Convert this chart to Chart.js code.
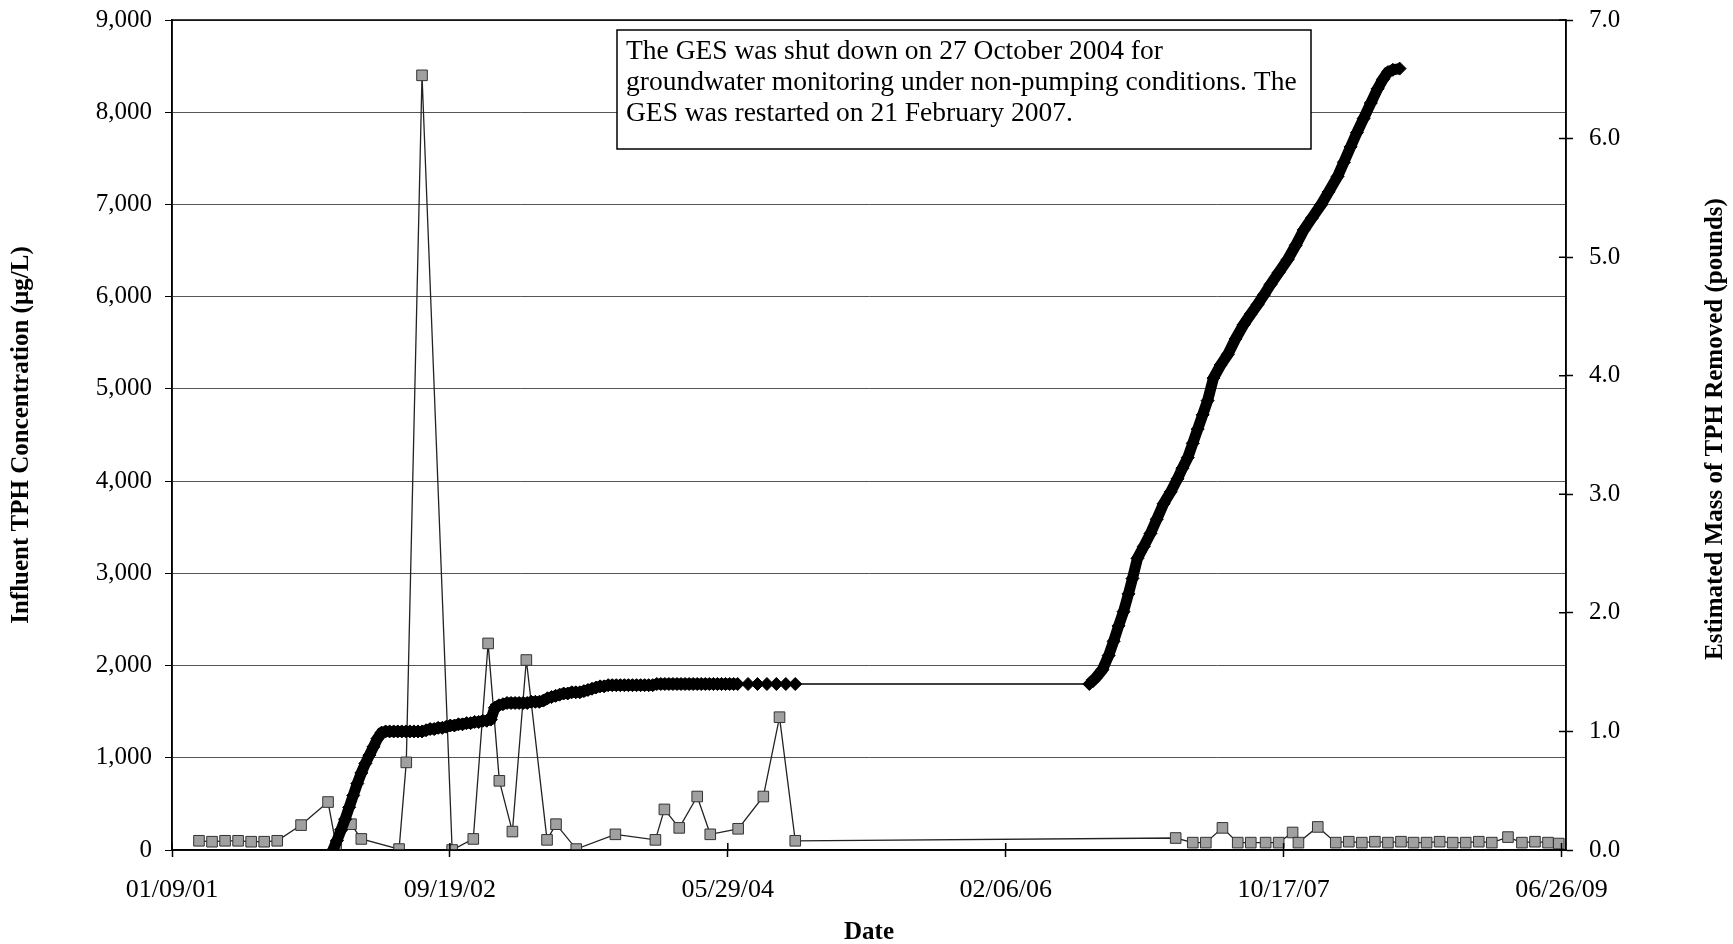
<!DOCTYPE html>
<html>
<head>
<meta charset="utf-8">
<title>Influent TPH Concentration and Estimated Mass of TPH Removed</title>
<script src="https://cdn.jsdelivr.net/npm/chart.js@4.4.1/dist/chart.umd.min.js"></script>
<style>
  body { margin: 0; background: #fff; }
  #chart-box { width: 1733px; height: 944px; }
</style>
</head>
<body>
<div id="chart-box"><canvas id="tph-canvas" width="1733" height="944"></canvas></div>
<script>
    // Dates are Excel serial dates (days since 12/30/1899), like the source workbook
    let tickDates = [36900, 37518, 38136, 38754, 39372, 39990];

    // Influent TPH concentration (ug/L), left axis
    let tphDates = [
      36960, 36989, 37018, 37047, 37076, 37105, 37134, 37187, 37247, 37265,
      37298, 37321, 37405, 37421, 37456, 37523, 37570, 37603, 37628, 37657,
      37688, 37734, 37754, 37799, 37886, 37975, 37995, 38028, 38068, 38097,
      38159, 38215, 38251, 38286,
      39132, 39170, 39199, 39236, 39270, 39299, 39332, 39361, 39392, 39405,
      39448, 39488, 39517, 39546, 39575, 39604, 39633, 39661, 39690, 39719,
      39748, 39777, 39806, 39835, 39871, 39902, 39931, 39960, 39984
    ];
    let tphValues = [
      100, 90, 100, 100, 90, 90, 100, 270, 520, 50,
      280, 120, 10, 950, 8400, 0, 120, 2240, 750, 200,
      2060, 110, 280, 10, 170, 110, 440, 240, 580, 170,
      230, 580, 1440, 100,
      130, 80, 80, 240, 80, 80, 80, 80, 190, 80,
      250, 80, 90, 80, 90, 80, 90, 80, 80, 90,
      80, 80, 90, 80, 140, 80, 90, 80, 70
    ];

    // Estimated cumulative mass of TPH removed (pounds), right axis
    let massDates = [
      37258, 37267, 37276, 37285, 37294, 37303, 37312, 37321, 37330, 37339,
      37348, 37357, 37366, 37375, 37384, 37393, 37402, 37411, 37420, 37429,
      37438, 37447, 37456, 37465, 37474, 37483, 37492, 37501, 37510, 37519,
      37528, 37537, 37546, 37555, 37564, 37573, 37582, 37591, 37600, 37609,
      37618, 37627, 37636, 37645, 37654, 37663, 37672, 37681, 37690, 37699,
      37708, 37717, 37726, 37735, 37744, 37753, 37762, 37771, 37780, 37789,
      37798, 37807, 37816, 37825, 37834, 37843, 37852, 37861, 37870, 37879,
      37888, 37897, 37906, 37915, 37924, 37933, 37942, 37951, 37960, 37969,
      37978, 37987, 37996, 38005, 38014, 38023, 38032, 38041, 38050, 38059,
      38068, 38077, 38086, 38095, 38104, 38113, 38122, 38131, 38140, 38149,
      38158, 38181, 38202, 38223, 38244, 38265, 38286,
      38940, 38954, 38969, 38983, 38994, 39005, 39016, 39027, 39036, 39047,
      39061, 39076, 39090, 39105, 39121, 39136, 39147, 39159, 39170, 39181,
      39192, 39203, 39216, 39232, 39248, 39265, 39283, 39299, 39314, 39328,
      39343, 39361, 39381, 39399, 39417, 39435, 39455, 39472, 39492, 39506,
      39521, 39535, 39550, 39566, 39581, 39593, 39604, 39615, 39630
    ];
    let massValues = [
      0.00, 0.08, 0.17, 0.26, 0.36, 0.46, 0.56, 0.65, 0.73, 0.80,
      0.87, 0.94, 0.99, 1.00, 1.00, 1.00, 1.00, 1.00, 1.00, 1.00,
      1.00, 1.00, 1.00, 1.01, 1.02, 1.02, 1.03, 1.03, 1.04, 1.05,
      1.05, 1.06, 1.06, 1.07, 1.07, 1.08, 1.08, 1.09, 1.09, 1.10,
      1.20, 1.22, 1.23, 1.24, 1.24, 1.24, 1.24, 1.24, 1.24, 1.25,
      1.25, 1.25, 1.26, 1.28, 1.29, 1.30, 1.31, 1.32, 1.32, 1.33,
      1.33, 1.33, 1.34, 1.35, 1.36, 1.37, 1.38, 1.38, 1.39, 1.39,
      1.39, 1.39, 1.39, 1.39, 1.39, 1.39, 1.39, 1.39, 1.39, 1.39,
      1.40, 1.40, 1.40, 1.40, 1.40, 1.40, 1.40, 1.40, 1.40, 1.40,
      1.40, 1.40, 1.40, 1.40, 1.40, 1.40, 1.40, 1.40, 1.40, 1.40,
      1.40, 1.40, 1.40, 1.40, 1.40, 1.40, 1.40,
      1.40, 1.45, 1.52, 1.64, 1.76, 1.89, 2.01, 2.16, 2.29, 2.46,
      2.56, 2.67, 2.79, 2.92, 3.02, 3.13, 3.22, 3.31, 3.43, 3.55,
      3.67, 3.79, 3.98, 4.09, 4.18, 4.31, 4.43, 4.52, 4.60, 4.68,
      4.77, 4.87, 4.98, 5.10, 5.23, 5.33, 5.44, 5.55, 5.68, 5.80,
      5.93, 6.05, 6.17, 6.30, 6.42, 6.50, 6.56, 6.58, 6.59
    ];

    let noteLines = [
      'The GES was shut down on 27 October 2004 for',
      'groundwater monitoring under non-pumping conditions. The',
      'GES was restarted on 21 February 2007.'
    ];

    let serif = "'Liberation Serif', 'Times New Roman', serif";
    Chart.defaults.font.family = serif;
    Chart.defaults.color = '#000';

    // excel serial -> mm/dd/yy
    function serialToLabel(serial) {
      let d = new Date(Date.UTC(1899, 11, 30) + serial * 86400000);
      let mm = String(d.getUTCMonth() + 1).padStart(2, '0');
      let dd = String(d.getUTCDate()).padStart(2, '0');
      let yy = String(d.getUTCFullYear() % 100).padStart(2, '0');
      return mm + '/' + dd + '/' + yy;
    }

    function toPoints(xs, ys) {
      let pts = [];
      for (let i = 0; i < xs.length; i++) {
        pts.push({x: xs[i], y: ys[i]});
      }
      return pts;
    }

    // keep the plot area where the layout puts it (no extra room for half labels)
    function noScalePadding(scale) {
      scale.paddingTop = 0;
      scale.paddingBottom = 0;
      scale.paddingLeft = 0;
      scale.paddingRight = 0;
    }

    // frame, text box, right axis title and inside halves of the cross tick marks
    let extrasPlugin = {
      id: 'extras',
      afterDraw(chart) {
        let ctx = chart.ctx;
        let area = chart.chartArea;
        let xs = chart.scales.x;
        let y1 = chart.scales.y1;

        ctx.save();
        ctx.strokeStyle = '#000';
        ctx.lineWidth = 1.5;
        ctx.strokeRect(area.left, area.top, area.right - area.left, area.bottom - area.top);

        ctx.beginPath();
        tickDates.forEach(function(d) {
          let px = xs.getPixelForValue(d);
          ctx.moveTo(px, area.bottom);
          ctx.lineTo(px, area.bottom - 7);
        });
        for (let v = 0; v <= 7; v++) {
          let py = y1.getPixelForValue(v);
          ctx.moveTo(area.right, py);
          ctx.lineTo(area.right - 7, py);
        }
        ctx.stroke();

        // note box
        let bx = area.left + 445, by = area.top + 10, bw = 694, bh = 119;
        ctx.fillStyle = '#fff';
        ctx.fillRect(bx, by, bw, bh);
        ctx.strokeRect(bx, by, bw, bh);
        ctx.fillStyle = '#000';
        ctx.font = '27.5px ' + serif;
        ctx.textAlign = 'left';
        ctx.textBaseline = 'middle';
        noteLines.forEach(function(line, i) {
          ctx.fillText(line, bx + 9, by + 22 + i * 31);
        });

        // right axis title reads bottom to top
        ctx.translate(chart.width - 17, (area.top + area.bottom) / 2 - 6);
        ctx.rotate(-Math.PI / 2);
        ctx.font = 'bold 25px ' + serif;
        ctx.textAlign = 'center';
        ctx.fillText('Estimated Mass of TPH Removed (pounds)', 0, 0);
        ctx.restore();
      }
    };

    let tph_ctx = document.getElementById('tph-canvas').getContext('2d');
    let tph_chart = new Chart(tph_ctx, {
      type: 'line',
      data: {
        datasets: [
          {
            label: 'Estimated Mass of TPH Removed',
            data: toPoints(massDates, massValues),
            yAxisID: 'y1',
            borderColor: '#000',
            borderWidth: 1.5,
            // daily readings pile up into a solid band; long gaps stay a thin line
            segment: {
              borderWidth: function(c) {
                return (c.p1.parsed.x - c.p0.parsed.x) < 21 ? 11 : 1.5;
              }
            },
            pointStyle: 'rectRot',
            pointRadius: 6.5,
            pointBackgroundColor: '#000',
            pointBorderColor: '#000',
            pointBorderWidth: 1,
            tension: 0,
            fill: false
          },
          {
            label: 'Influent TPH Concentration',
            data: toPoints(tphDates, tphValues),
            yAxisID: 'y',
            borderColor: '#222',
            borderWidth: 1.3,
            pointStyle: 'rect',
            pointRadius: 7.5,
            pointBackgroundColor: '#a0a0a0',
            pointBorderColor: '#333',
            pointBorderWidth: 1,
            tension: 0,
            fill: false
          }
        ]
      },
      options: {
        responsive: false,
        animation: false,
        devicePixelRatio: 1,
        layout: { padding: { top: 20, left: 0, right: 0, bottom: 0 } },
        plugins: {
          legend: { display: false },
          tooltip: { enabled: false }
        },
        scales: {
          x: {
            type: 'linear',
            position: 'bottom',
            min: 36900,
            max: 40000,
            afterBuildTicks: function(scale) {
              scale.ticks = tickDates.map(function(v) { return {value: v}; });
            },
            afterFit: function(scale) { scale.height = 94; noScalePadding(scale); },
            ticks: {
              callback: function(v) { return serialToLabel(v); },
              font: { size: 26 },
              color: '#000',
              padding: 18,
              maxRotation: 0,
              autoSkip: false
            },
            grid: { drawOnChartArea: false, tickLength: 7, color: '#000', tickWidth: 1.5 },
            border: { color: '#000', width: 1.5 },
            title: {
              display: true,
              text: 'Date',
              font: { size: 25, weight: 'bold' },
              color: '#000',
              padding: { top: 0, bottom: -4 }
            }
          },
          y: {
            position: 'left',
            min: 0,
            max: 9000,
            afterFit: function(scale) { scale.width = 172; noScalePadding(scale); },
            ticks: {
              stepSize: 1000,
              callback: function(v) { return v.toLocaleString('en-US'); },
              font: { size: 25 },
              color: '#000',
              padding: 13
            },
            grid: { color: '#555', lineWidth: 1, tickLength: 7, tickColor: '#000' },
            border: { color: '#000', width: 1.5 },
            title: {
              display: true,
              text: 'Influent TPH Concentration (µg/L)',
              font: { size: 25, weight: 'bold' },
              color: '#000',
              padding: { top: 7, bottom: 0 }
            }
          },
          y1: {
            position: 'right',
            min: 0,
            max: 7,
            afterFit: function(scale) { scale.width = 167; noScalePadding(scale); },
            ticks: {
              stepSize: 1,
              callback: function(v) { return v.toFixed(1); },
              font: { size: 25 },
              color: '#000',
              padding: 16
            },
            grid: { drawOnChartArea: false, tickLength: 7, color: '#000', tickWidth: 1.5 },
            border: { color: '#000', width: 1.5 }
          }
        }
      },
      plugins: [extrasPlugin]
    });
</script>
</body>
</html>
